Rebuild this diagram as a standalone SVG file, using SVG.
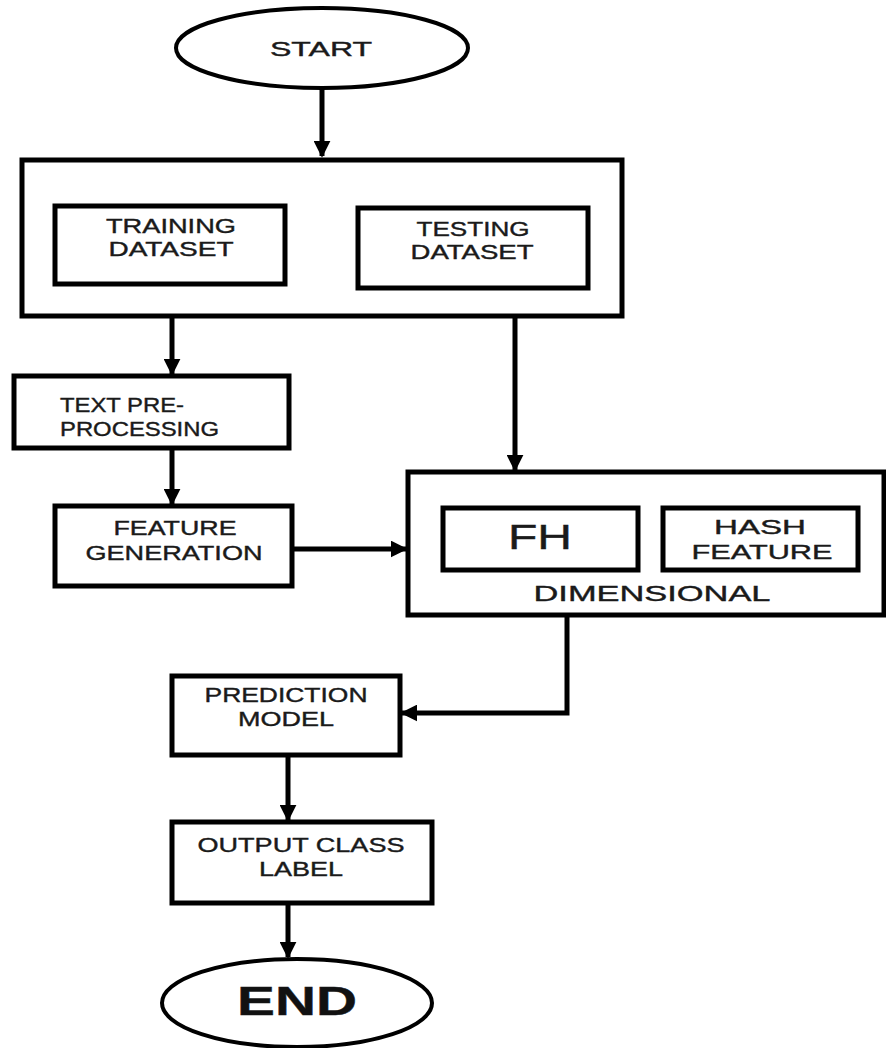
<svg xmlns="http://www.w3.org/2000/svg" width="886" height="1048" viewBox="0 0 886 1048">
<style>
.box{fill:#fff;stroke:#000;stroke-width:5}
.t{font-family:"Liberation Sans",Arial,sans-serif;font-size:21px;fill:#1a1a1a;text-anchor:middle;stroke:#1a1a1a;stroke-width:0.4}
.l{text-anchor:start}
.big{font-size:35px}
.end{font-size:40px;font-weight:bold;fill:#111}
.c{fill:none;stroke:#000;stroke-width:5}
</style>
<defs>
<marker id="ah" viewBox="0 0 10 10" refX="9" refY="5" markerWidth="3.4" markerHeight="3.4" orient="auto" markerUnits="strokeWidth">
<path d="M0,0 L10,5 L0,10 z" fill="#000"/>
</marker>
</defs>
<rect width="886" height="1048" fill="#fff"/>
<g id="connectors">
<path class="c" d="M322,88 V156" marker-end="url(#ah)"/>
<path class="c" d="M172,284 V374" marker-end="url(#ah)"/>
<path class="c" d="M172,448 V504" marker-end="url(#ah)"/>
<path class="c" d="M290,549 H406" marker-end="url(#ah)"/>
<path class="c" d="M515,288 V470" marker-end="url(#ah)"/>
<path class="c" d="M567,615 V713 H402" marker-end="url(#ah)"/>
<path class="c" d="M288,755 V820" marker-end="url(#ah)"/>
<path class="c" d="M288,903 V957" marker-end="url(#ah)"/>
</g>
<g id="start">
<ellipse cx="322" cy="48" rx="146" ry="40" fill="#fff" stroke="#000" stroke-width="4"/>
<text class="t" x="321" y="56" textLength="102" lengthAdjust="spacingAndGlyphs">START</text>
</g>
<g id="data-group">
<rect class="box" x="22" y="160" width="600" height="156"/>
</g>
<g id="training">
<rect class="box" x="55" y="206" width="230" height="78"/>
<text class="t" x="171" y="233" textLength="130" lengthAdjust="spacingAndGlyphs">TRAINING</text>
<text class="t" x="171" y="256" textLength="125" lengthAdjust="spacingAndGlyphs">DATASET</text>
</g>
<g id="testing">
<rect class="box" x="358" y="208" width="230" height="80"/>
<text class="t" x="473" y="236" textLength="113" lengthAdjust="spacingAndGlyphs">TESTING</text>
<text class="t" x="472" y="259" textLength="123" lengthAdjust="spacingAndGlyphs">DATASET</text>
</g>
<g id="preprocessing">
<rect class="box" x="14" y="376" width="275" height="72"/>
<text class="t l" x="60" y="412" textLength="124" lengthAdjust="spacingAndGlyphs">TEXT PRE-</text>
<text class="t l" x="60" y="436" textLength="159" lengthAdjust="spacingAndGlyphs">PROCESSING</text>
</g>
<g id="feature-generation">
<rect class="box" x="55" y="506" width="237" height="80"/>
<text class="t" x="175" y="535" textLength="123" lengthAdjust="spacingAndGlyphs">FEATURE</text>
<text class="t" x="174" y="560" textLength="177" lengthAdjust="spacingAndGlyphs">GENERATION</text>
</g>
<g id="dimensional">
<rect class="box" x="408" y="472" width="476" height="143"/>
<text class="t" x="652" y="601" style="font-size:22px" textLength="237" lengthAdjust="spacingAndGlyphs">DIMENSIONAL</text>
</g>
<g id="fh">
<rect class="box" x="443" y="508" width="195" height="62"/>
<text class="t big" x="540" y="549" textLength="64" lengthAdjust="spacingAndGlyphs">FH</text>
</g>
<g id="hash-feature">
<rect class="box" x="663" y="508" width="195" height="62"/>
<text class="t" x="760" y="534" textLength="92" lengthAdjust="spacingAndGlyphs">HASH</text>
<text class="t" x="762" y="559" textLength="141" lengthAdjust="spacingAndGlyphs">FEATURE</text>
</g>
<g id="prediction">
<rect class="box" x="172" y="676" width="228" height="79"/>
<text class="t" x="286" y="702" textLength="163" lengthAdjust="spacingAndGlyphs">PREDICTION</text>
<text class="t" x="286" y="726" textLength="96" lengthAdjust="spacingAndGlyphs">MODEL</text>
</g>
<g id="output">
<rect class="box" x="172" y="822" width="260" height="81"/>
<text class="t" x="301" y="852" textLength="207" lengthAdjust="spacingAndGlyphs">OUTPUT CLASS</text>
<text class="t" x="301" y="876" textLength="84" lengthAdjust="spacingAndGlyphs">LABEL</text>
</g>
<g id="end">
<ellipse cx="297" cy="1003" rx="135" ry="44" fill="#fff" stroke="#000" stroke-width="4"/>
<text class="t end" x="297" y="1015" textLength="120" lengthAdjust="spacingAndGlyphs">END</text>
</g>
</svg>
